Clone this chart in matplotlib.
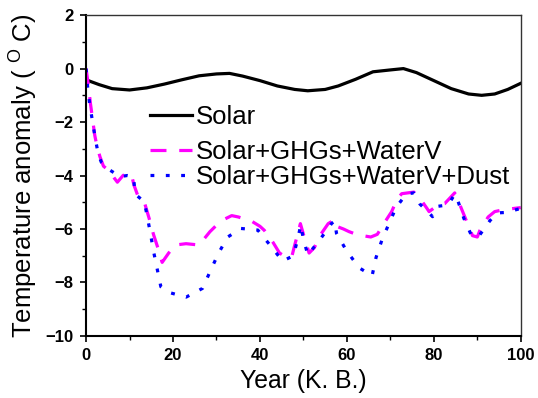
import numpy as np
import matplotlib
matplotlib.use('Agg')
import matplotlib.pyplot as plt

plt.rcParams['font.family'] = ['Liberation Sans', 'DejaVu Sans']
plt.rcParams['mathtext.fontset'] = 'custom'
plt.rcParams['mathtext.rm'] = 'Liberation Sans'

# Solar only
solar_x = [0, 3, 6, 10, 14, 18, 22, 26, 30, 33, 36, 40, 44, 48, 51, 55, 58, 62,
           66, 70, 73, 76, 80, 84, 88, 91, 94, 97, 100]
solar_y = [-0.42, -0.6, -0.75, -0.8, -0.72, -0.58, -0.42, -0.27, -0.2, -0.18, -0.28,
           -0.45, -0.65, -0.78, -0.83, -0.78, -0.65, -0.4, -0.12, -0.05, 0.0, -0.15,
           -0.45, -0.75, -0.95, -1.0, -0.95, -0.78, -0.55]

# Solar + GHGs + water vapour
wv_x = [0, 0.5, 1.0, 1.5, 2.0, 2.5, 3.2, 4.0, 5.5, 6.5, 7.2, 8.5, 9.5, 10.5, 11.0,
        12.0, 13.5, 14.5, 15.5, 16.5, 17.5, 19.0, 20.5, 23.0, 26.0, 28.5, 31.0, 33.5,
        35.0, 38.0, 40.0, 41.0, 43.0, 44.5, 46.0, 47.3, 48.0, 49.3, 50.0, 51.3, 52.5,
        54.0, 55.7, 57.2, 57.6, 59.2, 60.5, 62.5, 65.5, 67.0, 68.5, 70.3, 71.5, 72.6,
        75.4, 77.0, 78.5, 78.9, 81.0, 82.5, 84.8, 86.0, 87.5, 88.9, 90.0, 90.6, 92.5,
        94.0, 96.0, 99.0, 100]
wv_y = [0.0, -0.6, -1.3, -1.9, -2.5, -2.9, -3.3, -3.65, -3.85, -4.1, -4.25, -4.0, -3.9,
        -4.0, -4.35, -4.8, -5.05, -5.6, -6.2, -6.7, -7.25, -6.9, -6.6, -6.55, -6.6,
        -6.1, -5.7, -5.5, -5.55, -5.7, -5.9, -6.05, -6.5, -6.9, -7.05, -7.05, -6.6,
        -5.8, -6.2, -6.9, -6.7, -6.2, -5.8, -5.65, -5.9, -6.0, -6.1, -6.22, -6.3, -6.2,
        -5.8, -5.35, -4.9, -4.68, -4.62, -4.9, -5.25, -5.35, -5.1, -5.05, -4.65, -5.1,
        -5.7, -6.25, -6.3, -6.05, -5.55, -5.35, -5.28, -5.22, -5.2]

# Solar + GHGs + water vapour + dust
dust_x = [0, 0.3, 0.8, 1.5, 2.1, 2.8, 3.5, 5.5, 7.8, 9.5, 10.9, 11.3, 13.4, 14.2, 14.9,
          15.6, 16.4, 17.2, 19.2, 23.0, 26.8, 28.5, 30.4, 32.5, 35.6, 39.5, 42.3, 45.2,
          47.7, 48.7, 49.4, 49.9, 51.0, 53.6, 56.5, 57.2, 57.6, 59.9, 62.8, 65.8, 66.7,
          68.0, 69.7, 71.4, 73.7, 75.4, 76.8, 78.9, 79.7, 81.0, 83.3, 84.8, 85.6, 86.9,
          88.7, 90.3, 92.9, 94.5, 96.7, 100]
dust_y = [0.0, -0.6, -1.3, -2.0, -2.6, -3.2, -3.5, -3.8, -4.04, -4.0, -4.04, -4.7,
          -4.98, -5.64, -6.26, -6.9, -7.53, -8.16, -8.38, -8.55, -8.22, -7.6, -6.93,
          -6.31, -5.98, -6.04, -6.6, -7.2, -7.0, -6.36, -5.85, -6.31, -6.97, -6.44,
          -5.79, -5.7, -6.16, -6.81, -7.45, -7.75, -7.07, -6.44, -5.79, -5.17, -4.69,
          -4.65, -5.07, -5.4, -5.54, -5.15, -5.1, -4.7, -4.98, -5.6, -6.26, -6.28,
          -5.69, -5.4, -5.38, -5.23]

fig = plt.figure(figsize=(5.38, 3.98), dpi=100)
ax = fig.add_axes([0.16, 0.156, 0.808, 0.806])

l1, = ax.plot(solar_x, solar_y, color='black', lw=2.3, label='Solar')
l2, = ax.plot(wv_x, wv_y, color='#ff00ff', lw=2.3, linestyle=(0, (5, 4)),
              label='Solar+GHGs+WaterV')
l3, = ax.plot(dust_x, dust_y, color='#0000ff', lw=2.3, linestyle=(0, (1.2, 3.6)),
              label='Solar+GHGs+WaterV+Dust')

ax.set_xlim(0, 100)
ax.set_ylim(-10, 2)
ax.set_xticks(np.arange(0, 101, 20))
ax.set_xticks(np.arange(10, 100, 20), minor=True)
ax.set_yticks(np.arange(-10, 3, 2))
ax.set_yticks(np.arange(-9, 2, 2), minor=True)
ax.tick_params(which='major', length=4.5, width=1.2, direction='out',
               labelsize=12, pad=4.5)
ax.tick_params(which='minor', length=3, width=1.0, direction='out')
for lab in ax.get_xticklabels() + ax.get_yticklabels():
    lab.set_fontweight('bold')

for s in ['left', 'bottom']:
    ax.spines[s].set_linewidth(1.5)
for s in ['top', 'right']:
    ax.spines[s].set_linewidth(1.0)
    ax.spines[s].set_color('#333333')

ax.set_xlabel('Year (K. B.)', fontsize=17.8, labelpad=4)
ax.set_ylabel(r'Temperature anomaly ( $^{\mathrm{O}}$ C)', fontsize=18.5, labelpad=5)

leg1 = ax.legend(handles=[l1], loc='upper left', bbox_to_anchor=(0.147, 0.72),
                 frameon=False, fontsize=18.5, handlelength=1.65, handletextpad=0.15,
                 borderpad=0, borderaxespad=0)
ax.add_artist(leg1)
ax.legend(handles=[l2, l3], loc='upper left', bbox_to_anchor=(0.147, 0.612),
          frameon=False, fontsize=18.5, handlelength=1.65, handletextpad=0.15,
          borderpad=0, borderaxespad=0, labelspacing=0.05)

fig.savefig('out.png', dpi=100)
